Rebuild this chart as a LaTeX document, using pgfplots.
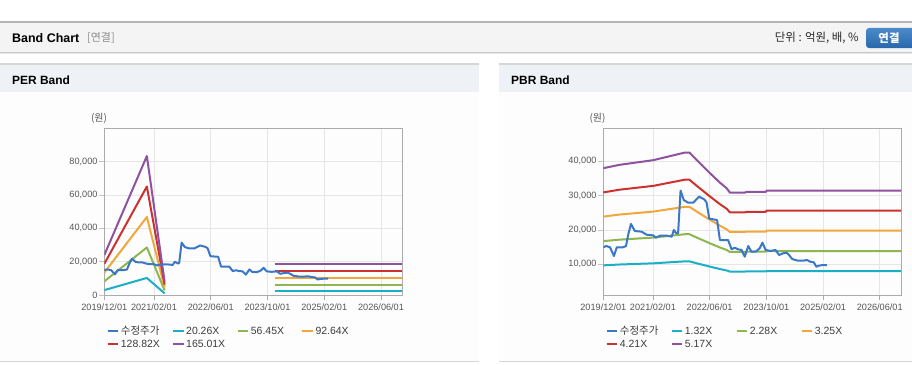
\documentclass[border=0pt]{standalone}
\usepackage{pgfplots}
\pgfplotsset{compat=1.18}
\usepackage{pgfplotstable}
\usepackage{fontspec}
\setmainfont{Liberation Sans}
\newfontfamily\kr{Noto Sans CJK KR}
\definecolor{cBlue}{HTML}{3A77C6}
\definecolor{cCyan}{HTML}{1BAFC5}
\definecolor{cGreen}{HTML}{8DB650}
\definecolor{cOrange}{HTML}{F2A73A}
\definecolor{cRed}{HTML}{CC3130}
\definecolor{cPurple}{HTML}{8E52A0}
\definecolor{gridc}{HTML}{E6E6E6}
\definecolor{axc}{HTML}{ABABAB}
\definecolor{ytc}{HTML}{C4C4C4}
\definecolor{tickc}{HTML}{555555}
\definecolor{hdrbg}{HTML}{F4F4F4}
\definecolor{panelbg}{HTML}{EEF1F6}
\definecolor{bodybg}{HTML}{FDFDFD}
\definecolor{btnA}{HTML}{4A8BCB}
\definecolor{btnB}{HTML}{2A67AA}
\definecolor{lineA}{HTML}{B4B4B4}
\definecolor{lineB}{HTML}{C8C8C8}
\definecolor{lineC}{HTML}{E8E8E8}
\definecolor{lineD}{HTML}{D6D6D6}
\definecolor{grayT}{HTML}{8C8C8C}
\definecolor{darkT}{HTML}{282828}
\definecolor{legT}{HTML}{3C3C3C}

% price (months since 2019/12, KRW)
\pgfplotstableread{
m v
0 14960
0.8 15330
1.9 14960
3.0 12420
3.8 14960
5.5 14960
6.4 15300
7.0 18540
7.8 21750
8.9 19710
10.8 19500
12.2 18630
14.1 18430
14.8 17760
16.0 18340
17.9 18340
19.3 18050
19.9 20000
20.6 19040
21.1 19040
21.8 31460
22.7 28740
23.9 27960
25.4 27960
27.0 29710
28.4 28950
29.1 28160
29.9 23300
31.0 23100
32.1 22900
32.9 17080
35.2 17080
36.2 14370
37.1 14840
38.0 14370
39.0 14170
39.9 12220
40.9 15330
41.8 13680
43.0 13680
44.1 14660
44.9 16300
45.8 14170
47.2 13900
48.6 14170
49.6 12710
50.7 13200
51.7 13400
52.4 12710
53.3 11540
54.9 11050
56.3 11050
57.5 11250
58.4 10760
59.4 10570
60.1 9300
60.8 9590
61.9 9800
63.1 9800
}\price

% PER bands
\pgfplotstableread{
m c1 c2 c3 c4 c5
0 2938 8186 13434 18680 23930
12 10235 28518 46801 65080 83363
17 983 2738 4493 6248 8003
}\perA
\pgfplotstableread{
m c1 c2 c3 c4 c5
48 2249 6266 10283 14299 18317
84 2249 6266 10283 14299 18317
}\perB

% PBR bands
\pgfplotstableread{
m c1 c2 c3 c4 c5
0 9699 16753 23881 30935 37989
4.5 9945 17178 24486 31718 38951
14.1 10296 17784 25350 32838 40326
23 10861 18760 26741 34640 42539
24.3 10861 18760 26741 34640 42539
26.3 10317 17820 25402 32905 40409
30.1 9327 16110 22965 29748 36531
32.9 8628 14902 21242 27517 33791
34.8 8210 14182 20215 26186 32157
35.7 7884 13618 19412 25146 30880
40.0 7884 13618 19412 25146 30880
40.3 7933 13703 19533 25302 31072
45.8 7933 13703 19533 25302 31072
46.1 8032 13874 19776 25618 31459
84 8032 13874 19776 25618 31459
}\pbr

\pgfplotsset{
  bandaxis/.style={
    scale only axis, height=166.7bp,
    xmin=0, xmax=84,
    xtick={0,14,30,46,62,78},
    xticklabels={2019/12/01,2021/02/01,2022/06/01,2023/10/01,2025/02/01,2026/06/01},
    grid=major, major grid style={draw=gridc, line width=0.8pt},
    axis line style={draw=axc, line width=1pt},
    tick align=outside, xtick pos=bottom, ytick pos=left,
    major tick length=5bp,
    xtick style={draw=axc, line width=0.8pt},
    ytick style={draw=ytc, line width=0.8pt},
    ticklabel style={font=\fontsize{9.2}{10}\selectfont, text=tickc},
    yticklabel style={inner xsep=1.6bp},
    /pgf/number format/assume math mode=true,
    scaled y ticks=false,
    yticklabel style={/pgf/number format/.cd, fixed, 1000 sep={,}},
    every axis plot/.append style={line width=2pt, line join=round, no markers},
  }
}

\begin{document}
\begin{tikzpicture}[x=1bp,y=1bp]
\path[use as bounding box] (0,0) rectangle (912,364);
\fill[white] (0,0) rectangle (912,364);
% header bar
\fill[hdrbg] (0,312) rectangle (912,341.5);
\draw[lineA, line width=1.5pt] (0,342) -- (912,342);
\draw[lineB, line width=1pt] (0,311.5) -- (912,311.5);
\draw[lineC, line width=1pt] (0,310.5) -- (912,310.5);
\node[anchor=west, inner sep=0, font=\fontsize{12.5}{14}\selectfont\bfseries] at (12,326) {Band Chart};
\node[anchor=west, inner sep=0, font=\kr\fontsize{11}{13}\selectfont, text=grayT] at (87,326) {[연결]};
\node[anchor=east, inner sep=0, font=\kr\fontsize{11.5}{13}\selectfont, text=darkT] at (859,326) {단위 : 억원, 배, \%};
\shade[top color=btnA, bottom color=btnB, rounded corners=3bp] (866,316) rectangle (916,336);
\node[inner sep=0, font=\kr\bfseries\fontsize{11.5}{13}\selectfont, text=white] at (889,326) {연결};
% panels
\foreach \xa/\xb in {0/479, 499/912}{
  \fill[bodybg] (\xa,3) rectangle (\xb,272);
  \fill[panelbg] (\xa,272) rectangle (\xb,299.5);
  \draw[lineD, line width=1.2pt] (\xa,300) -- (\xb,300);
  \draw[lineD, line width=1pt] (\xa,2.5) -- (\xb,2.5);
}
\node[anchor=west, inner sep=0, font=\fontsize{12}{14}\selectfont\bfseries] at (12,284) {PER Band};
\node[anchor=west, inner sep=0, font=\fontsize{12}{14}\selectfont\bfseries] at (511,284) {PBR Band};

% PER axis
\begin{axis}[bandaxis, at={(104.3bp,69bp)}, anchor=south west, width=298bp,
  ymin=0, ymax=100000, ytick={0,20000,40000,60000,80000}]
\addplot[cCyan] table[x=m,y=c1] {\perA};
\addplot[cGreen] table[x=m,y=c2] {\perA};
\addplot[cOrange] table[x=m,y=c3] {\perA};
\addplot[cRed] table[x=m,y=c4] {\perA};
\addplot[cPurple] table[x=m,y=c5] {\perA};
\addplot[cCyan] table[x=m,y=c1] {\perB};
\addplot[cGreen] table[x=m,y=c2] {\perB};
\addplot[cOrange] table[x=m,y=c3] {\perB};
\addplot[cRed] table[x=m,y=c4] {\perB};
\addplot[cPurple] table[x=m,y=c5] {\perB};
\addplot[cBlue] table[x=m,y=v] {\price};
\end{axis}

% PBR axis
\begin{axis}[bandaxis, at={(603.3bp,69bp)}, anchor=south west, width=297.7bp,
  ymin=1070, ymax=49600, ytick={10000,20000,30000,40000}]
\addplot[cCyan] table[x=m,y=c1] {\pbr};
\addplot[cGreen] table[x=m,y=c2] {\pbr};
\addplot[cOrange] table[x=m,y=c3] {\pbr};
\addplot[cRed] table[x=m,y=c4] {\pbr};
\addplot[cPurple] table[x=m,y=c5] {\pbr};
\addplot[cBlue] table[x=m,y=v] {\price};
\end{axis}

% unit labels
\node[inner sep=0, font=\kr\fontsize{10}{12}\selectfont, text=tickc] at (99,246) {(원)};
\node[inner sep=0, font=\kr\fontsize{10}{12}\selectfont, text=tickc] at (597.5,246) {(원)};

% legends
\foreach \x/\y/\c/\t in {107.7/33.3/cBlue/{\kr 수정주가}, 173/33.3/cCyan/20.26X, 237.7/33.3/cGreen/56.45X, 302.3/33.3/cOrange/92.64X,
  107.7/20/cRed/128.82X, 173/20/cPurple/165.01X,
  606.7/33.3/cBlue/{\kr 수정주가}, 671.7/33.3/cCyan/1.32X, 736.7/33.3/cGreen/2.28X, 801.7/33.3/cOrange/3.25X,
  606.7/20/cRed/4.21X, 671.7/20/cPurple/5.17X}{
  \draw[\c, line width=2.2pt] (\x,\y) -- ++(10.6,0);
  \node[anchor=west, inner sep=0, font=\fontsize{10.5}{12}\selectfont, text=legT] at (\x+13,\y) {\t};
}
\end{tikzpicture}
\end{document}
